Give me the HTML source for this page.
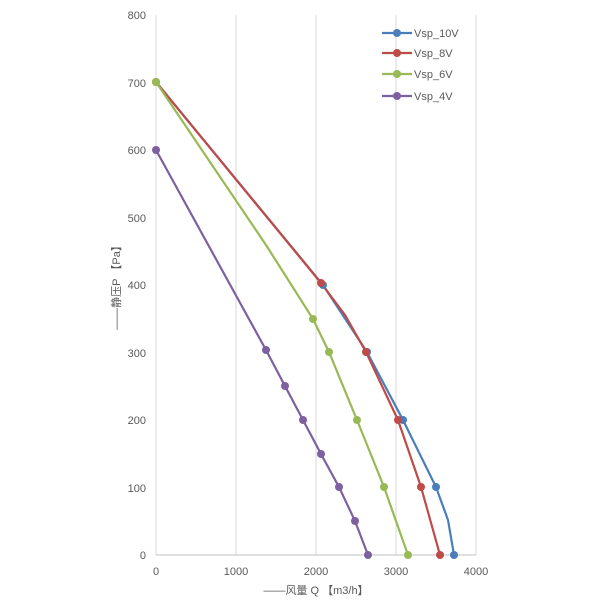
<!DOCTYPE html><html><head><meta charset="utf-8"><style>body{margin:0;background:#fff}svg{display:block}text{font-family:"Liberation Sans","Noto Sans CJK SC",sans-serif;fill:#595959;font-size:11px}</style></head><body>
<svg width="600" height="600" viewBox="0 0 600 600">
<g stroke="#d9d9d9" stroke-width="1">
<line x1="236" y1="15" x2="236" y2="555"/><line x1="316" y1="15" x2="316" y2="555"/><line x1="396" y1="15" x2="396" y2="555"/><line x1="476" y1="15" x2="476" y2="555"/>
<line x1="156" y1="15" x2="156" y2="555"/>
</g>
<line x1="156" y1="555" x2="476" y2="555" stroke="#bfbfbf"/>
<g text-anchor="end"><text x="146" y="559">0</text><text x="146" y="492">100</text><text x="146" y="424">200</text><text x="146" y="357">300</text><text x="146" y="289">400</text><text x="146" y="222">500</text><text x="146" y="154">600</text><text x="146" y="87">700</text><text x="146" y="19">800</text></g>
<g text-anchor="middle"><text x="156" y="575">0</text><text x="236" y="575">1000</text><text x="316" y="575">2000</text><text x="396" y="575">3000</text><text x="476" y="575">4000</text></g>
<text x="316" y="594" text-anchor="middle" font-size="12">——风量 Q 【m3/h】</text>
<text transform="translate(120,285) rotate(-90)" text-anchor="middle" font-size="12">——静压P 【Pa】</text>
<g fill="none" stroke-width="2.2">
<polyline stroke="#4a7ebb" points="156,82 323,285 367,352 403,420 436,487 448,520 454,555"/>
<polyline stroke="#be4b48" points="156,82 321,283 345,315 366,352 398,420 421,487 440,555"/>
<polyline stroke="#98b954" points="156,82 266,245 313,319 329,352 357,420 384,487 408,555"/>
<polyline stroke="#7d60a0" points="156,150 266,350 285,386 303,420 321,454 339,487 355,521 368,555"/>
</g>
<g fill="#4a7ebb"><circle cx="323" cy="285" r="4"/><circle cx="367" cy="352" r="4"/><circle cx="403" cy="420" r="4"/><circle cx="436" cy="487" r="4"/><circle cx="454" cy="555" r="4"/></g>
<g fill="#be4b48"><circle cx="156" cy="82" r="4"/><circle cx="321" cy="283" r="4"/><circle cx="366" cy="352" r="4"/><circle cx="398" cy="420" r="4"/><circle cx="421" cy="487" r="4"/><circle cx="440" cy="555" r="4"/></g>
<g fill="#98b954"><circle cx="156" cy="82" r="4"/><circle cx="313" cy="319" r="4"/><circle cx="329" cy="352" r="4"/><circle cx="357" cy="420" r="4"/><circle cx="384" cy="487" r="4"/><circle cx="408" cy="555" r="4"/></g>
<g fill="#7d60a0"><circle cx="156" cy="150" r="4"/><circle cx="266" cy="350" r="4"/><circle cx="285" cy="386" r="4"/><circle cx="303" cy="420" r="4"/><circle cx="321" cy="454" r="4"/><circle cx="339" cy="487" r="4"/><circle cx="355" cy="521" r="4"/><circle cx="368" cy="555" r="4"/></g>
<g stroke-width="2.2">
<line x1="382" y1="33" x2="412" y2="33" stroke="#4a7ebb"/><circle cx="397" cy="33" r="4" fill="#4a7ebb"/>
<line x1="382" y1="53" x2="412" y2="53" stroke="#be4b48"/><circle cx="397" cy="53" r="4" fill="#be4b48"/>
<line x1="382" y1="74" x2="412" y2="74" stroke="#98b954"/><circle cx="397" cy="74" r="4" fill="#98b954"/>
<line x1="382" y1="96" x2="412" y2="96" stroke="#7d60a0"/><circle cx="397" cy="96" r="4" fill="#7d60a0"/>
</g>
<text x="414" y="37">Vsp_10V</text><text x="414" y="57">Vsp_8V</text><text x="414" y="78">Vsp_6V</text><text x="414" y="100">Vsp_4V</text>
</svg></body></html>
